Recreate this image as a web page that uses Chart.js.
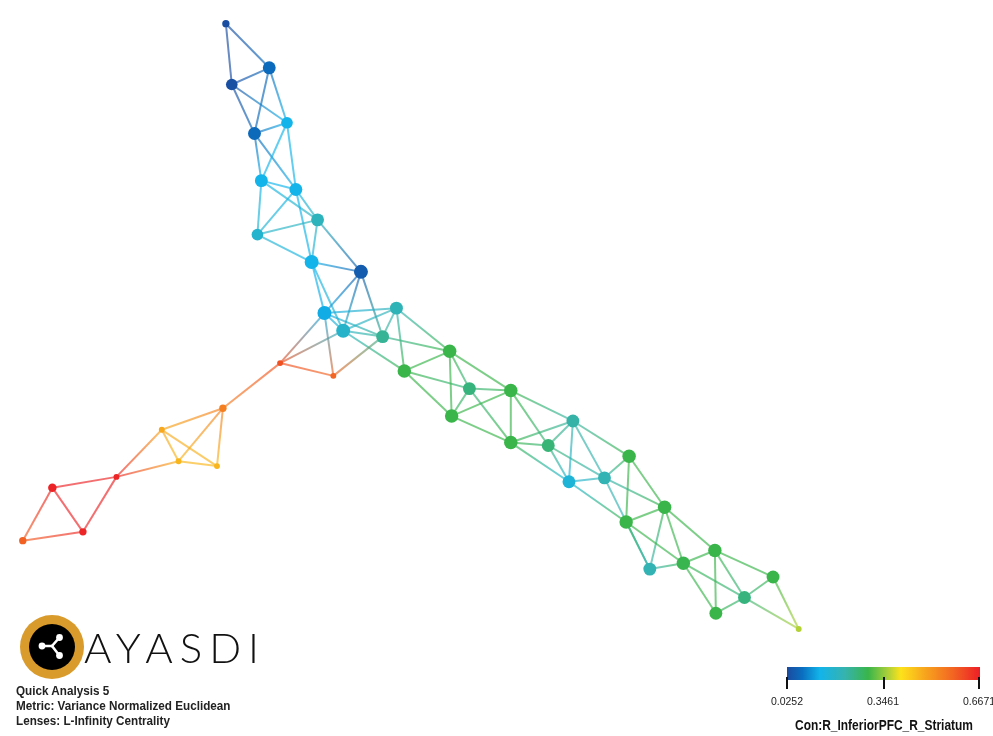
<!DOCTYPE html>
<html>
<head>
<meta charset="utf-8">
<script src="https://cdn.jsdelivr.net/npm/chart.js@4.4.1/dist/chart.umd.min.js"></script>
<style>
  html, body { margin: 0; padding: 0; background: #ffffff; overflow: hidden; }
  #wrap { position: absolute; left: 0; top: 0; width: 993px; height: 736px; }
  #overlay { position: absolute; left: 0; top: 0; }
</style>
</head>
<body>
<div id="wrap"><canvas id="c"></canvas></div>
<svg id="overlay" width="993" height="736" xmlns="http://www.w3.org/2000/svg">
  <defs>
    <linearGradient id="cbar" x1="0" x2="1" y1="0" y2="0"></linearGradient>
  </defs>
  <!-- logo -->
  <circle cx="52" cy="647" r="32" fill="#d99b2b"/>
  <circle cx="52" cy="647" r="23" fill="#000000"/>
  <g stroke="#ffffff" stroke-width="2.6" stroke-linecap="round">
    <line x1="43" y1="646" x2="52" y2="646"/>
    <line x1="52" y1="646" x2="59" y2="638"/>
    <line x1="52" y1="646" x2="59" y2="655"/>
  </g>
  <g fill="#ffffff">
    <circle cx="42" cy="646" r="3.4"/>
    <circle cx="59.5" cy="637.5" r="3.4"/>
    <circle cx="59.5" cy="655.5" r="3.4"/>
  </g>
  <text x="84" y="663" font-family="Lato, 'Open Sans', sans-serif" font-weight="300" font-size="42" fill="#111" textLength="175" lengthAdjust="spacing">AYASDI</text>
  <g font-family="'Liberation Sans', Arial, sans-serif" font-weight="bold" font-size="13" fill="#222" transform="translate(16,0) scale(0.9,1)">
    <text x="0" y="695">Quick Analysis 5</text>
    <text x="0" y="710">Metric: Variance Normalized Euclidean</text>
    <text x="0" y="725">Lenses: L-Infinity Centrality</text>
  </g>
  <!-- colour bar -->
  <rect x="787" y="667" width="193" height="13" fill="url(#cbar)"/>
  <g fill="#111">
    <rect x="786" y="677" width="2" height="12"/>
    <rect x="883" y="677" width="2" height="12"/>
    <rect x="978" y="677" width="2" height="12"/>
  </g>
  <g font-family="'Liberation Sans', Arial, sans-serif" font-size="10.5" fill="#222">
    <text id="t0" x="787" y="705" text-anchor="middle"></text>
    <text id="t1" x="883" y="705" text-anchor="middle"></text>
    <text id="t2" x="963" y="705"></text>
  </g>
  <text id="cbtitle" x="795" y="730" font-family="'Liberation Sans', Arial, sans-serif" font-weight="bold" font-size="14.5" fill="#111" textLength="178" lengthAdjust="spacingAndGlyphs"></text>
</svg>
<script>
// ---------------- data ----------------
const nodeNames = ['A','B','C','D','E','F','G','H','I','J','K','L','M','N','O','P','Q','R','S','T','U','V','W','X','Y','Z',
  'AA','AB','AC','AD','AE','AF','AG','AH','AI','AJ','AK','BA','BB','BC','BD','BE','BF','BG','BH'];
const nodeX = [222,266,228,284,251,258,293,315,254,309,359,322,395,341,381,277,331,403,449,469,511,451,511,549,574,631,
  570,606,667,628,652,686,718,777,748,719,803,219,157,174,213,111,46,77,16];
const nodeY = [17,62,79,118,129,177,186,217,232,260,270,312,307,330,336,363,376,371,351,389,391,417,444,447,422,458,
  484,480,510,525,573,567,554,581,602,618,634,409,431,463,468,479,490,535,544];
const nodeValue = [0.030,0.070,0.032,0.134,0.068,0.134,0.134,0.198,0.175,0.134,0.050,0.128,0.205,0.180,0.237,0.603,0.577,
  0.295,0.295,0.255,0.295,0.295,0.295,0.260,0.224,0.295,0.160,0.211,0.295,0.295,0.211,0.290,0.295,0.295,0.255,0.295,0.365,
  0.540,0.481,0.462,0.462,0.660,0.662,0.660,0.584];
const nodeMembers = [2,9,7,7,9,9,9,9,7,11,11,11,9,11,9,1,1,10,10,9,10,10,10,9,9,10,9,9,10,10,9,10,10,9,9,9,1,2,1,1,1,1,3,2,2];
const edges = [
  [0,1],[0,2],[1,2],[1,4],[1,3],[2,3],[2,4],[4,3],[4,5],[4,6],[3,5],[3,6],[5,6],[5,7],[5,8],[6,8],[6,7],[6,9],
  [8,7],[8,9],[7,9],[7,10],[9,10],[9,11],[9,13],[10,11],[10,13],[10,14],[11,12],[11,14],[11,13],[11,15],[11,16],
  [13,12],[13,14],[13,15],[13,17],[16,14],[15,16],[12,14],[12,17],[12,18],[14,18],[17,18],[17,19],[17,21],[18,19],
  [18,20],[18,21],[19,20],[19,21],[19,22],[21,20],[21,22],[20,22],[20,24],[20,23],[22,23],[22,24],[22,26],[23,24],
  [23,26],[23,27],[24,26],[24,27],[24,25],[25,27],[25,28],[25,29],[26,27],[26,29],[27,28],[27,30],[28,29],[28,30],
  [28,31],[28,32],[29,30],[29,31],[30,31],[31,32],[31,34],[31,35],[32,34],[32,33],[32,35],[33,34],[33,36],[34,36],
  [34,35],
  [15,37],[37,38],[37,39],[37,40],[38,39],[38,40],[39,40],[38,41],[39,41],[41,42],[41,43],[42,43],[42,44],[43,44]
];
const valueMin = 0.0252, valueMid = 0.3461, valueMax = 0.6671;
const legendTitle = 'Con:R_InferiorPFC_R_Striatum';

// ---------------- styles ----------------
const cmapStops = [
  [0.00, '#1b4a9e'], [0.08, '#0a6fc0'], [0.17, '#12b4ea'], [0.30, '#36b3ae'], [0.42, '#39b54a'],
  [0.52, '#a8cf3a'], [0.59, '#fde21a'], [0.72, '#f7a31d'], [0.86, '#f26522'], [1.00, '#ec1f26']
];
function hex2rgb(h){ return [parseInt(h.slice(1,3),16),parseInt(h.slice(3,5),16),parseInt(h.slice(5,7),16)]; }
function cmap(v, alpha){
  let t = (v - valueMin) / (valueMax - valueMin);
  t = Math.max(0, Math.min(1, t));
  let i = 0;
  while (i < cmapStops.length - 2 && t > cmapStops[i+1][0]) i++;
  const [t0,c0] = cmapStops[i], [t1,c1] = cmapStops[i+1];
  const f = (t - t0) / (t1 - t0);
  const a = hex2rgb(c0), b = hex2rgb(c1);
  const r = Math.round(a[0]+(b[0]-a[0])*f), g = Math.round(a[1]+(b[1]-a[1])*f), bl = Math.round(a[2]+(b[2]-a[2])*f);
  return `rgba(${r},${g},${bl},${alpha===undefined?1:alpha})`;
}
// colour bar gradient
const grad = document.getElementById('cbar');
cmapStops.forEach(([t,c]) => {
  const s = document.createElementNS('http://www.w3.org/2000/svg','stop');
  s.setAttribute('offset', t); s.setAttribute('stop-color', c); grad.appendChild(s);
});
document.getElementById('t0').textContent = valueMin.toFixed(4);
document.getElementById('t1').textContent = valueMid.toFixed(4);
document.getElementById('t2').textContent = valueMax.toFixed(4);
document.getElementById('cbtitle').textContent = legendTitle;

// ---------------- datasets ----------------
const nodePoints = nodeX.map((x,i) => ({x: x, y: nodeY[i]}));
const edgePoints = [];
const edgePointNode = [];
edges.forEach(([a, b]) => {
  edgePoints.push({x: nodeX[a], y: nodeY[a]}); edgePointNode.push(a);
  edgePoints.push({x: nodeX[b], y: nodeY[b]}); edgePointNode.push(b);
  edgePoints.push({x: null, y: null}); edgePointNode.push(-1);
});
const EDGE_ALPHA = 0.66;

new Chart(document.getElementById('c'), {
  type: 'scatter',
  data: {
    datasets: [
      {
        label: 'nodes',
        data: nodePoints,
        order: 0,
        pointRadius: nodeMembers.map(n => 1.2 + 1.75 * Math.sqrt(n)),
        pointBackgroundColor: nodeValue.map(v => cmap(v, 1)),
        pointBorderWidth: 0,
        pointBorderColor: 'rgba(0,0,0,0)',
        showLine: false
      },
      {
        label: 'edges',
        type: 'line',
        data: edgePoints,
        order: 1,
        pointRadius: 0,
        borderWidth: 2,
        spanGaps: false,
        fill: false,
        tension: 0,
        borderColor: 'rgba(120,180,200,0.7)',
        segment: {
          borderColor: (ctx) => {
            const a = edgePointNode[ctx.p0DataIndex], b = edgePointNode[ctx.p1DataIndex];
            if (a < 0 || b < 0) return 'rgba(0,0,0,0)';
            const c = ctx.chart.ctx;
            const g = c.createLinearGradient(ctx.p0.x, ctx.p0.y, ctx.p1.x, ctx.p1.y);
            g.addColorStop(0, cmap(nodeValue[a], EDGE_ALPHA));
            g.addColorStop(1, cmap(nodeValue[b], EDGE_ALPHA));
            return g;
          }
        }
      }
    ]
  },
  options: {
    responsive: true,
    maintainAspectRatio: false,
    animation: false,
    layout: { padding: 0 },
    plugins: { legend: { display: false }, tooltip: { enabled: false }, title: { display: false } },
    scales: {
      x: { type: 'linear', min: 0, max: 993, display: false },
      y: { type: 'linear', min: 0, max: 736, reverse: true, display: false }
    }
  }
});
</script>
</body>
</html>
